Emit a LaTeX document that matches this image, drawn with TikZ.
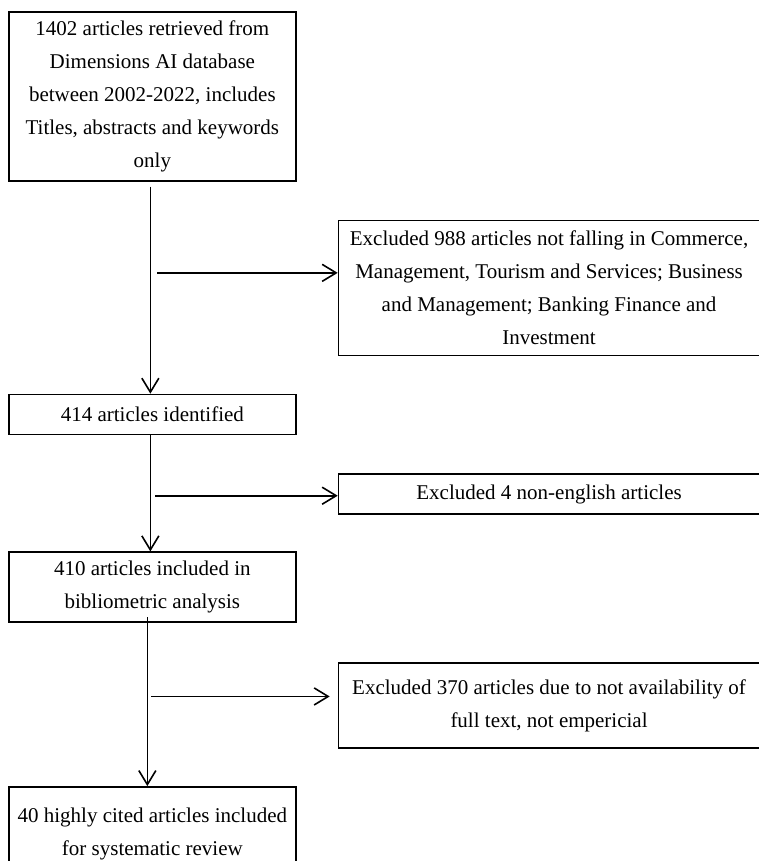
\documentclass[tikz,border=0pt]{standalone}
\usepackage{fontspec}
\setmainfont{Liberation Serif}
\usetikzlibrary{arrows.meta,positioning,calc}

\begin{document}
\begin{tikzpicture}[x=1pt, y=-1pt,
  every node/.style = {draw, line width=1.7pt, align=center, inner sep=2pt,
    font=\fontsize{21}{33}\selectfont},
  main/.style = {minimum width=287pt},
  excl/.style = {minimum width=421pt},
  arr/.style = {-{Straight Barb[length=14pt,width=17pt]}, line width=1.6pt},
]
\useasboundingbox (0,0) rectangle (758,861);
\node[main, minimum height=169pt, anchor=north west] (ret) at (8,11)
  {1402 articles retrieved from\\Dimensions AI database\\between 2002-2022, includes\\Titles, abstracts and keywords\\only};
\node[main, minimum height=40pt, below=212pt of ret] (ident) {414 articles identified};
\node[main, minimum height=70pt, below=116pt of ident] (incl) {410 articles included in\\bibliometric analysis};
\node[main, minimum height=94pt, below=163pt of incl] (final) {40 highly cited articles included\\for systematic review};
\node[excl, minimum height=135pt, below right=38pt and 41pt of ret] (ex1)
  {Excluded 988 articles not falling in Commerce,\\Management, Tourism and Services; Business\\and Management; Banking Finance and\\Investment};
\node[excl, minimum height=40pt, below right=38pt and 41pt of ident] (ex2) {Excluded 4 non-english articles};
\node[excl, minimum height=85pt, below right=39pt and 41pt of incl] (ex3)
  {Excluded 370 articles due to not availability of\\full text, not empericial};
% branch points on the main line
\coordinate (b1) at ([xshift=5pt]$(ret.south)!0.43!(ident.north)$);
\coordinate (b2) at ([xshift=3pt]$(ident.south)!0.52!(incl.north)$);
\coordinate (b3) at ([xshift=-1pt]$(incl.south)!0.45!(final.north)$);
\draw[arr, shorten <=5pt] ([xshift=-2pt]ret.south) -- ([xshift=-2pt]ident.north);
\draw[arr] ([xshift=-2pt]ident.south) -- ([xshift=-2pt]incl.north);
\draw[arr, shorten <=-6pt] ([xshift=-5pt]incl.south) -- ([xshift=-5pt]final.north);
\draw[arr] (b1) -- (b1 -| ex1.west);
\draw[arr] (b2) -- (b2 -| ex2.west);
\draw[arr, shorten >=8pt] (b3) -- (b3 -| ex3.west);
\end{tikzpicture}
\end{document}
